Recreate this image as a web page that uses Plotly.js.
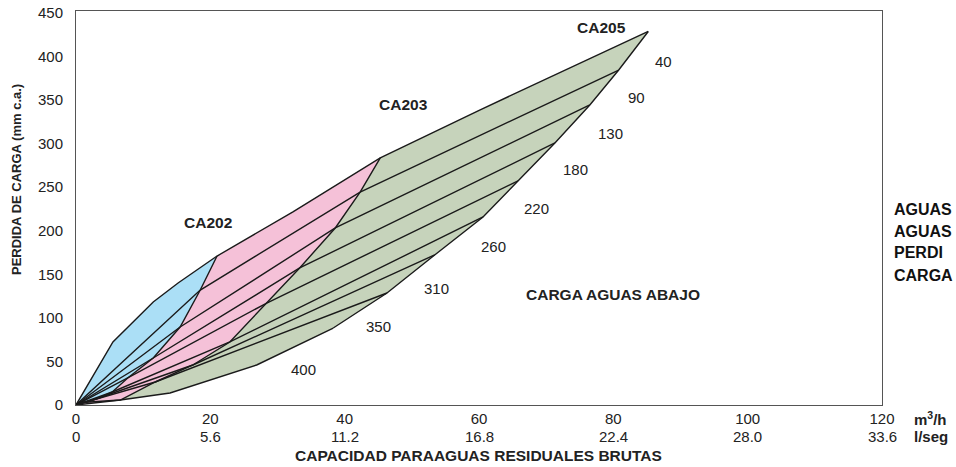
<!DOCTYPE html>
<html>
<head>
<meta charset="utf-8">
<script src="https://cdn.plot.ly/plotly-3.0.1.min.js"></script>
<style>html,body{margin:0;padding:0;background:#fff;}#chart{width:956px;height:467px;}</style>
</head>
<body>
<div id="chart"></div>
<script>
// Downstream load curves (CARGA AGUAS ABAJO)
const loads = [40, 90, 130, 180, 220, 260, 310, 350, 400];
// Intersection of each curve with the CA202 capacity limit (m3/h, mm c.a.)
const q202 = [21.0, 18.5, 15.5, 11.5, 7.7, 5.4, 3.4, 2.1, 0.9];
const p202 = [170.9, 131.9, 89.5, 53.9, 31.0, 14.9, 8.0, 4.6, 2.8];
// Intersection with the CA203 capacity limit
const q203 = [45.3, 42.3, 38.6, 33.3, 28.4, 22.9, 17.4, 11.8, 6.6];
const p203 = [283.4, 244.3, 203.1, 157.2, 117.0, 72.3, 45.9, 26.4, 5.7];
// End of each curve on the CA205 capacity limit
const q205 = [85.2, 80.8, 76.5, 71.3, 65.8, 60.6, 53.4, 46.3, 38.3];
const p205 = [428.5, 384.3, 344.2, 300.6, 257.0, 215.7, 172.1, 128.5, 88.3];
// Extra points on the top (40) curve
const extraQ40 = [5.5, 11.5, 15.2, 32.3, 60.1];
const extraP40 = [72.3, 118.2, 140.0, 221.5, 338.4];
// Extra points on the bottom (400) curve
const extraQ400 = [14.0, 26.9];
const extraP400 = [13.8, 45.9];
// Axis tick labels
const xTicksM3h = [0, 20, 40, 60, 80, 100, 120];
const xTicksLseg = ['0', '5.6', '11.2', '16.8', '22.4', '28.0', '33.6'];
const yTicks = [0, 50, 100, 150, 200, 250, 300, 350, 400, 450];
const modelNames = ['CA202', 'CA203', 'CA205'];
const sideLines = ['AGUAS', 'AGUAS', 'PERDI', 'CARGA'];

const FONT = 'Liberation Sans, Arial, Helvetica, sans-serif';
const nCurves = loads.length;

function curvePoints(i) {
  let pts = [[0, 0], [q202[i], p202[i]], [q203[i], p203[i]], [q205[i], p205[i]]];
  if (i === 0) extraQ40.forEach((q, k) => pts.push([q, extraP40[k]]));
  if (i === nCurves - 1) extraQ400.forEach((q, k) => pts.push([q, extraP400[k]]));
  pts.sort((a, b) => a[0] - b[0]);
  return pts;
}
const curves = loads.map((_, i) => curvePoints(i));

function seg(pts, qa, qb) { return pts.filter(p => p[0] >= qa - 1e-9 && p[0] <= qb + 1e-9); }

// Polygons
const topCurve = curves[0];
const botCurve = curves[nCurves - 1];
const edge = (qs, ps) => qs.map((q, i) => [q, ps[i]]);
const e202 = edge(q202, p202), e203 = edge(q203, p203), e205 = edge(q205, p205);

const polyBlue = [].concat(seg(topCurve, 0, q202[0]), e202, [[0, 0]]);
const polyPink = [].concat(seg(topCurve, q202[0], q203[0]), e203, [[0, 0]], e202.slice().reverse());
const polyGreen = [].concat(seg(topCurve, q203[0], q205[0]), e205,
  seg(botCurve, q203[nCurves - 1], q205[nCurves - 1]).reverse(), e203.slice().reverse());

function polyTrace(pts, color) {
  return { x: pts.map(p => p[0]), y: pts.map(p => p[1]), type: 'scatter', mode: 'lines',
    fill: 'toself', fillcolor: color, line: { width: 0, color: color }, hoverinfo: 'skip', showlegend: false };
}
function lineTrace(pts) {
  return { x: pts.map(p => p[0]), y: pts.map(p => p[1]), type: 'scatter', mode: 'lines',
    line: { width: 1.4, color: '#1a1a1a' }, hoverinfo: 'skip', showlegend: false };
}

const traces = [polyTrace(polyBlue, '#abdff6'), polyTrace(polyPink, '#f5c1d8'), polyTrace(polyGreen, '#c6d3bb')];
curves.forEach(c => traces.push(lineTrace(c)));
traces.push(lineTrace([[0, 0]].concat(e202.slice().reverse())));
traces.push(lineTrace([[0, 0]].concat(e203.slice().reverse())));
traces.push(lineTrace(e205));

// Label positions
const labelQ = [87.4, 83.4, 79.6, 74.3, 68.5, 62.1, 53.7, 45.1, 33.9];
const labelP = [393.5, 352.2, 312.0, 270.7, 226.0, 182.4, 134.2, 89.5, 40.2];
const modelQ = [19.7, 48.7, 78.2];
const modelP = [209.9, 344.2, 433.6];

const annotations = [];
loads.forEach((L, i) => annotations.push({ x: labelQ[i], y: labelP[i], xref: 'x', yref: 'y', text: String(L),
  showarrow: false, font: { family: FONT, size: 15, color: '#222' } }));
modelNames.forEach((m, i) => annotations.push({ x: modelQ[i], y: modelP[i], xref: 'x', yref: 'y', text: '<b>' + m + '</b>',
  showarrow: false, font: { family: FONT, size: 15.5, color: '#222' } }));
annotations.push({ x: 66.7, y: 127.3, xref: 'x', yref: 'y', xanchor: 'left', yanchor: 'middle', text: '<b>CARGA AGUAS ABAJO</b>',
  showarrow: false, font: { family: FONT, size: 15.5, color: '#222' } });

// pixel helpers for paper positions
const L0 = 76, R0 = 882, T0 = 11, B0 = 405;
const px = x => (x - L0) / (R0 - L0);
const py = y => (B0 - y) / (B0 - T0);

// second row of x tick labels (l/seg)
xTicksM3h.forEach((v, i) => annotations.push({ x: v, y: py(436), xref: 'x', yref: 'paper', xanchor: 'center', yanchor: 'middle',
  text: xTicksLseg[i], showarrow: false, font: { family: FONT, size: 15, color: '#222' } }));

annotations.push({ x: px(912), y: py(418), xref: 'paper', yref: 'paper', xanchor: 'left', yanchor: 'middle', text: '<b>m<sup>3</sup>/h</b>',
  showarrow: false, font: { family: FONT, size: 15, color: '#222' } });
annotations.push({ x: px(912), y: py(436), xref: 'paper', yref: 'paper', xanchor: 'left', yanchor: 'middle', text: '<b>l/seg</b>',
  showarrow: false, font: { family: FONT, size: 15, color: '#222' } });
annotations.push({ x: px(478), y: py(455), xref: 'paper', yref: 'paper', xanchor: 'center', yanchor: 'middle',
  text: '<b>CAPACIDAD PARAAGUAS RESIDUALES BRUTAS</b>',
  showarrow: false, font: { family: FONT, size: 15.5, color: '#222' } });
annotations.push({ x: px(16), y: py(180), xref: 'paper', yref: 'paper', xanchor: 'center', yanchor: 'middle', textangle: -90,
  text: '<b>PERDIDA DE CARGA (mm c.a.)</b>',
  showarrow: false, font: { family: FONT, size: 13, color: '#222' } });
const sideY = [209, 231, 253, 275];
sideLines.forEach((t, i) => annotations.push({ x: px(892), y: py(sideY[i]), xref: 'paper', yref: 'paper', xanchor: 'left', yanchor: 'middle',
  text: '<b>' + t + '</b>', showarrow: false, font: { family: FONT, size: 16, color: '#111' } }));

const layout = {
  width: 956, height: 467,
  margin: { l: L0, r: 956 - R0, t: T0, b: 467 - B0 },
  paper_bgcolor: '#fff', plot_bgcolor: '#fff',
  showlegend: false,
  xaxis: { range: [0, 120], tickvals: xTicksM3h, ticktext: xTicksM3h.map(String),
    showgrid: false, zeroline: false, showline: true, mirror: true, linecolor: '#555', linewidth: 1,
    ticks: '', tickfont: { family: FONT, size: 15, color: '#222' }, fixedrange: true },
  yaxis: { range: [0, 452], tickvals: yTicks, showgrid: false, zeroline: false, showline: true, mirror: true,
    linecolor: '#555', linewidth: 1, ticks: '', ticklabelstandoff: 9,
    tickfont: { family: FONT, size: 15, color: '#222' }, fixedrange: true },
  annotations: annotations
};
Plotly.newPlot('chart', traces, layout, { staticPlot: true, displayModeBar: false });
</script>
</body>
</html>
